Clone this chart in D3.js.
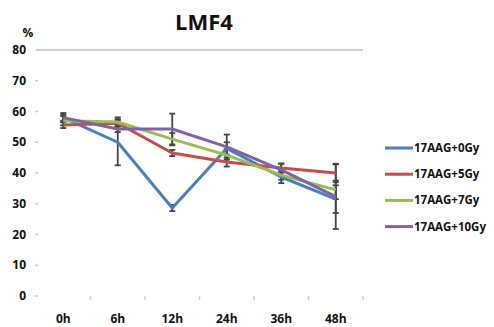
<!DOCTYPE html>
<html>
<head>
<meta charset="utf-8">
<title>LMF4</title>
<style>
  body { margin: 0; background: #fff; }
  text { font-family: "Open Sans", "Liberation Sans", sans-serif; font-weight: bold; fill: #111; }
</style>
</head>
<body>
<div id="chart"></div>
<script src="https://cdn.jsdelivr.net/npm/d3@7"></script>
<script>
// categories and tick values
const times = ["0h", "6h", "12h", "24h", "36h", "48h"];
const yTicks = [0, 10, 20, 30, 40, 50, 60, 70, 80];

// series names and colours
const seriesNames = ["17AAG+0Gy", "17AAG+5Gy", "17AAG+7Gy", "17AAG+10Gy"];
const seriesColors = ["#4a7ebb", "#c0504d", "#9bbb59", "#8064a2"];

// mean values per series
const aag0 = [58, 50, 28.6, 48, 38.7, 31.5];
const aag5 = [55.6, 56.2, 46.5, 43.6, 41.6, 40];
const aag7 = [57, 56.6, 51, 45.8, 39.3, 34.5];
const aag10 = [58, 54.3, 54.3, 48.5, 41, 32.3];

// error bar half-widths
const err0 = [1, 7.5, 1, 2, 2, 4.5];
const err5 = [1, 1, 1, 1.5, 1.5, 3];
const err7 = [1.5, 1.5, 2, 2, 1.5, 3];
const err10 = [1.5, 1, 5, 4, 2, 10.5];

const values = [aag0, aag5, aag7, aag10];
const errors = [err0, err5, err7, err10];

const width = 494, height = 327;
const plot = { left: 36, right: 363, top: 50, bottom: 296 };

const svg = d3.select("#chart").append("svg")
  .attr("width", width)
  .attr("height", height);

const x = d3.scaleBand()
  .domain(times)
  .range([plot.left, plot.right]);

const y = d3.scaleLinear()
  .domain([0, 80])
  .range([plot.bottom, plot.top]);

//title and unit
svg.append("text")
  .attr("x", 204).attr("y", 30)
  .attr("text-anchor", "middle")
  .style("font-size", "22px")
  .text("LMF4");
svg.append("text")
  .attr("x", 28).attr("y", 37)
  .attr("text-anchor", "middle")
  .style("font-size", "12px")
  .text("%");

// top gridline at 80
svg.append("line")
  .attr("x1", plot.left).attr("x2", plot.right)
  .attr("y1", y(80)).attr("y2", y(80))
  .attr("stroke", "#bdbdbd")
  .attr("stroke-width", 1.5);

// y axis labels + tiny tick marks
const yAxis = svg.append("g");
yAxis.selectAll(".ylab")
  .data(yTicks)
  .join("text")
  .attr("class", "ylab")
  .attr("x", 26)
  .attr("y", d => y(d) + 4)
  .attr("text-anchor", "end")
  .style("font-size", "12px")
  .text(d => d);
yAxis.selectAll(".ytick")
  .data(yTicks.slice(0, -1))
  .join("line")
  .attr("class", "ytick")
  .attr("x1", 35).attr("x2", 38)
  .attr("y1", d => y(d)).attr("y2", d => y(d))
  .attr("stroke", "#c8c8c8")
  .attr("stroke-width", 1.5);

// x axis labels + faint ticks between categories
svg.selectAll(".xlab")
  .data(times)
  .join("text")
  .attr("class", "xlab")
  .attr("x", d => x(d) + x.bandwidth() / 2)
  .attr("y", 323)
  .attr("text-anchor", "middle")
  .style("font-size", "12px")
  .text(d => d);
svg.selectAll(".xtick")
  .data(times)
  .join("line")
  .attr("class", "xtick")
  .attr("x1", d => x(d) + x.bandwidth()).attr("x2", d => x(d) + x.bandwidth())
  .attr("y1", plot.bottom).attr("y2", plot.bottom + 4)
  .attr("stroke", "#cfcfcf")
  .attr("stroke-width", 1.5);

const cx = t => x(t) + x.bandwidth() / 2;

// error bars
values.forEach(function(vals, s) {
  const g = svg.append("g").attr("stroke", "#444").attr("stroke-width", 1.8);
  vals.forEach(function(v, i) {
    const e = errors[s][i];
    const px = cx(times[i]);
    g.append("line")
      .attr("x1", px).attr("x2", px)
      .attr("y1", y(v + e)).attr("y2", y(v - e));
    [v + e, v - e].forEach(function(c) {
      g.append("line")
        .attr("x1", px - 3).attr("x2", px + 3)
        .attr("y1", y(c)).attr("y2", y(c));
    });
  });
});

// series lines
const line = d3.line()
  .x((d, i) => cx(times[i]))
  .y(d => y(d));

values.forEach(function(vals, s) {
  svg.append("path")
    .attr("d", line(vals))
    .attr("fill", "none")
    .attr("stroke", seriesColors[s])
    .attr("stroke-width", 3)
    .attr("stroke-linejoin", "round");
});

// legend
const legend = svg.append("g");
seriesNames.forEach(function(name, i) {
  const ly = 148 + i * 26.2;
  legend.append("line")
    .attr("x1", 385).attr("x2", 413)
    .attr("y1", ly).attr("y2", ly)
    .attr("stroke", seriesColors[i])
    .attr("stroke-width", 3);
  legend.append("text")
    .attr("x", 414).attr("y", ly + 4)
    .style("font-size", "11.5px")
    .text(name);
});
</script>
</body>
</html>
